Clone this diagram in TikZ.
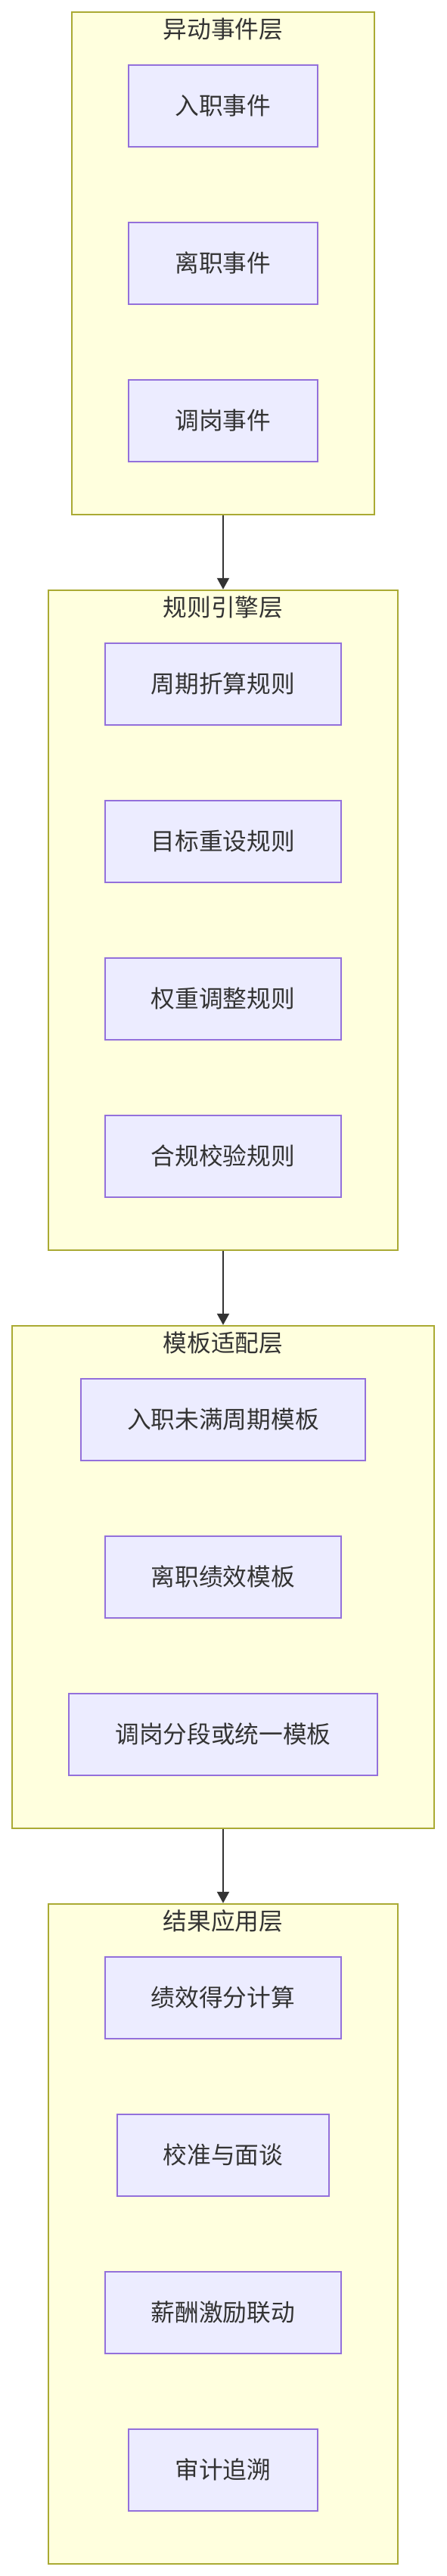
\documentclass[tikz,border=0pt]{standalone}
\usepackage{fontspec}
\usetikzlibrary{arrows.meta,positioning,fit,backgrounds}
\newfontfamily\cjk{Noto Sans CJK SC}
\definecolor{ink}{HTML}{333333}
\definecolor{lilac}{HTML}{9370DB}
\definecolor{mist}{HTML}{ECECFF}
\definecolor{moss}{HTML}{AAAA33}
\definecolor{cream}{HTML}{FFFFDE}
\tikzset{box/.style={draw=lilac,fill=mist,line width=1pt,minimum height=54pt,outer sep=0pt,
  inner xsep=30.55pt,font=\cjk\fontsize{15.85}{19}\selectfont,text=ink},
  layer/.style={draw=moss,fill=cream,line width=1pt,inner xsep=37.5pt,inner ysep=35pt},
  title/.style={font=\cjk\fontsize{15.85}{19}\selectfont,text=ink,inner sep=0pt},
  arrow/.style={-{Triangle[length=7.5pt,width=8pt]},line width=1pt,draw=ink}}

\begin{document}
\begin{tikzpicture}[node distance=50pt]
\useasboundingbox (-147.5pt,69.9pt) rectangle (147.5pt,-1632.1pt);
% event layer
\node[box] (join) at (0,0) {入职事件};
\node[box,below=of join] (leave) {离职事件};
\node[box,below=of leave] (move) {调岗事件};
% rule layer
\node[box,below=120pt of move] (cycle) {周期折算规则};
\node[box,below=of cycle] (target) {目标重设规则};
\node[box,below=of target] (weight) {权重调整规则};
\node[box,below=of weight] (check) {合规校验规则};
% template layer
\node[box,below=120pt of check] (short) {入职未满周期模板};
\node[box,below=of short] (exit) {离职绩效模板};
\node[box,below=of exit] (split) {调岗分段或统一模板};
% result layer
\node[box,below=120pt of split] (score) {绩效得分计算};
\node[box,below=of score] (talk) {校准与面谈};
\node[box,below=of talk] (pay) {薪酬激励联动};
\node[box,below=of pay] (audit) {审计追溯};
\begin{scope}[on background layer]
\node[layer,fit=(join)(move)] (event) {};
\node[layer,fit=(cycle)(check)] (rule) {};
\node[layer,fit=(short)(split)] (tmpl) {};
\node[layer,fit=(score)(audit)] (result) {};
\end{scope}
\node[title] at ([yshift=-12pt]event.north) {异动事件层};
\node[title] at ([yshift=-12pt]rule.north) {规则引擎层};
\node[title] at ([yshift=-12pt]tmpl.north) {模板适配层};
\node[title] at ([yshift=-12pt]result.north) {结果应用层};
\draw[arrow] (event)--(rule);\draw[arrow] (rule)--(tmpl);\draw[arrow] (tmpl)--(result);
\end{tikzpicture}
\end{document}
